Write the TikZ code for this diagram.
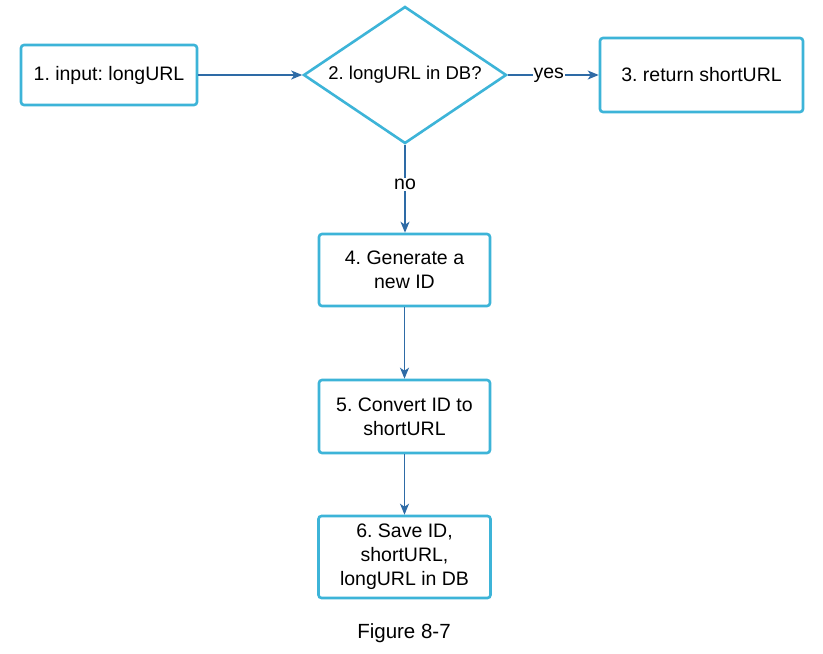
\documentclass[tikz,border=0pt]{standalone}
\usepackage{fontspec}
\setmainfont{Liberation Sans}
\usepackage{tikz}
\usetikzlibrary{shapes.geometric, arrows.meta}

\definecolor{boxcyan}{HTML}{3DB4D8}
\definecolor{arrowblue}{HTML}{2E6BA6}
\frenchspacing

\tikzset{
  stepbox/.style={draw=boxcyan, line width=2.6pt, rounded corners=3pt, fill=white,
    align=center, font=\fontsize{19.5}{24}\selectfont, inner sep=0pt},
  decision/.style={draw=boxcyan, line width=2.6pt, diamond, aspect=1.5, inner sep=0pt,
    minimum width=203pt, minimum height=137pt, font=\fontsize{18.5}{22}\selectfont},
  flow/.style={draw=arrowblue, line width=1.2pt, -{Stealth[length=11pt, width=9pt, inset=3pt]}},
  flowlabel/.style={fill=white, inner sep=1pt, font=\fontsize{19.5}{24}\selectfont}
}

\begin{document}
\begin{tikzpicture}[x=1pt, y=-1pt]
\useasboundingbox (0,0) rectangle (823,654);
\fill[white] (0,0) rectangle (823,654);
\node[stepbox, minimum width=176pt, minimum height=60pt] (input) at (109,75) {1. input: longURL};
\node[decision] (check) at (405,75) {2. longURL in DB?};
\node[stepbox, minimum width=203pt, minimum height=74pt] (found) at (701.5,75) {3. return shortURL};
\node[stepbox, minimum width=171pt, minimum height=72pt] (gen) at (404.5,270) {4. Generate a\\new ID};
\node[stepbox, minimum width=171pt, minimum height=73pt] (conv) at (404.5,416.5) {5. Convert ID to\\shortURL};
\node[stepbox, minimum width=172pt, minimum height=82pt] (save) at (404.5,557) {6. Save ID,\\shortURL,\\longURL in DB};
\node[font=\fontsize{20.5}{24}\selectfont] (caption) at (404,633) {Figure 8-7};
\draw[flow] (input) -- (check);
\draw[flow] (check) -- node[flowlabel, pos=0.45] {yes} (found);
\draw[flow] (check.south) -- node[flowlabel, pos=0.45] {no} (gen.north -| check.south);
\draw[flow] (gen) -- (conv);
\draw[flow] (conv) -- (save);
\end{tikzpicture}
\end{document}
